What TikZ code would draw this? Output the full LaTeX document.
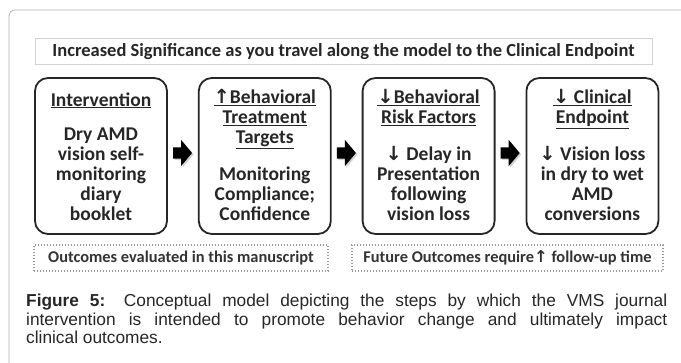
\documentclass[tikz,border=0pt]{standalone}
\usepackage{fontspec}
\setmainfont{Carlito}
\newfontfamily\capfont{Liberation Sans}
\newfontfamily\symfont{DejaVu Sans}
\usetikzlibrary{positioning, shapes.arrows, shadows}

\newcommand{\arup}{{\symfont ↑}}
\newcommand{\ardown}{{\symfont ↓}}

\begin{document}
\begin{tikzpicture}[x=1pt, y=-1pt, node distance=30pt,
    stepbox/.style={draw=black!85, line width=1.8pt, rounded corners=13pt,
        minimum width=132pt, minimum height=156pt},
    steptext/.style={font=\bfseries\fontsize{19.5}{20}\selectfont, text=black!85,
        align=center, inner sep=0pt},
    bigarrow/.style={single arrow, fill=black, inner sep=5.5pt, minimum height=19pt,
        single arrow head extend=7.5pt, single arrow tip angle=100,
        drop shadow={shadow xshift=1.5pt, shadow yshift=-1.5pt, opacity=0.35}},
    notebox/.style={draw=gray!80, line width=1.3pt, dash pattern=on 1.3pt off 1.7pt,
        minimum height=26pt, font=\bfseries\fontsize{16.4}{18}\selectfont, text=black!80},
    banner/.style={draw=gray!35, line width=1pt, minimum width=617pt, minimum height=26pt,
        font=\bfseries\fontsize{18.5}{19}\selectfont, text=black!85},
    caption/.style={font=\capfont\fontsize{17.3}{18.5}\selectfont, text=black!85,
        text width=641pt, align=justify, inner sep=0pt}]
    \useasboundingbox (0,0) rectangle (681,363);

    % outer frame
    \draw[gray!60, line width=0.8pt, rounded corners=6pt] (9,363) -- (9,10) -- (681,10);

    \node[banner] (banner) at (343.5,52) {Increased Significance as you travel along the model to the Clinical Endpoint};

    % the four steps
    \node[stepbox] (b1) at (101,156) {};
    \node[stepbox] (b2) [right=of b1] {};
    \node[stepbox] (b3) [right=of b2] {};
    \node[stepbox] (b4) [right=of b3] {};

    \node[steptext, below=15pt of b1.north] (t1) {\underline{Intervention}\\[14pt]
        Dry AMD\\vision self-\\monitoring\\diary\\booklet};
    \node[steptext, below=12pt of b2.north] (t2) {\underline{\arup Behavioral}\\
        \underline{Treatment}\\\underline{Targets}\\[17pt]
        Monitoring\\Compliance;\\Confidence};
    \node[steptext, below=12pt of b3.north] (t3) {\underline{\ardown Behavioral}\\
        \underline{Risk Factors}\\[17pt]
        \ardown{} Delay in\\Presentation\\following\\vision loss};
    \node[steptext, below=12pt of b4.north] (t4) {\underline{\ardown{} Clinical}\\
        \underline{Endpoint}\\[17pt]
        \ardown{} Vision loss\\in dry to wet\\AMD\\conversions};

    \node[bigarrow, right=5pt of b1, yshift=3pt] (a1) {};
    \node[bigarrow, right=5pt of b2, yshift=3pt] (a2) {};
    \node[bigarrow, right=5pt of b3, yshift=3pt] (a3) {};

    % outcome notes
    \node[notebox, minimum width=294pt] (now) at (181,258) {Outcomes evaluated in this manuscript};
    \node[notebox, minimum width=311pt] (later) at (507.5,258) {Future Outcomes require\arup{} follow-up time};

    \node[caption, anchor=north west] (cap) at (26,294) {\textbf{Figure 5:} Conceptual model depicting the steps by which the VMS journal\linebreak
        intervention is intended to promote behavior change and ultimately impact\linebreak
        clinical outcomes.};
\end{tikzpicture}
\end{document}
